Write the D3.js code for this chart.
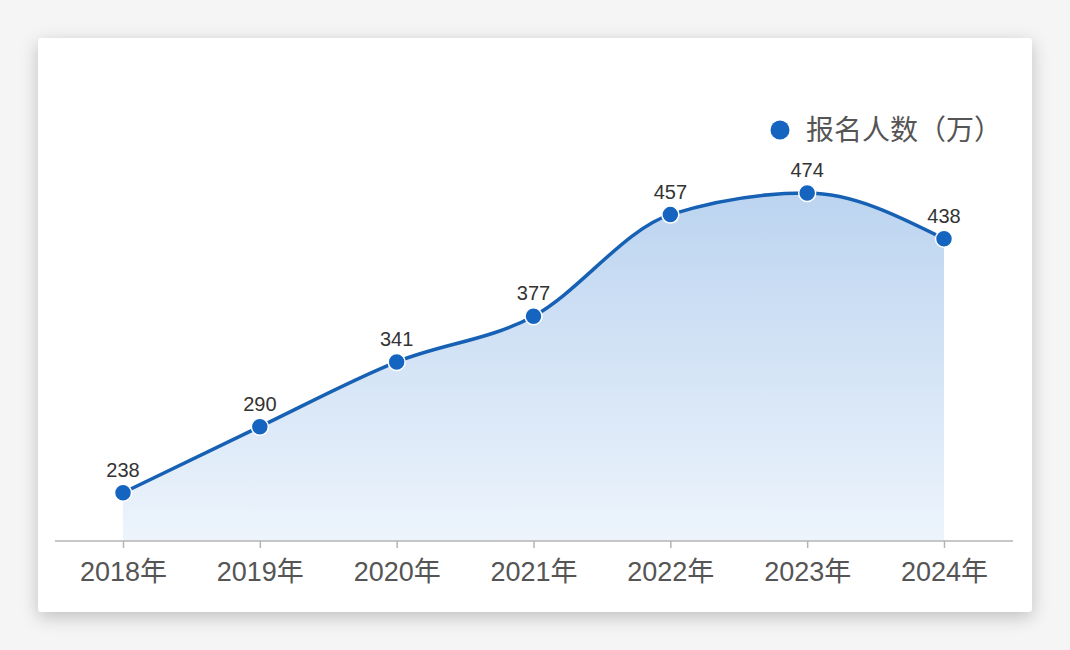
<!DOCTYPE html>
<html>
<head>
<meta charset="utf-8">
<script src="https://cdn.jsdelivr.net/npm/d3@7"></script>
<style>
  html, body { margin: 0; padding: 0; background: #f5f5f5; }
  #card {
    position: absolute; left: 38px; top: 38px; width: 994px; height: 574px;
    background: #fff; border-radius: 3px;
    box-shadow: 0 5px 18px rgba(0,0,0,0.22);
  }
  svg { position: absolute; left: 0; top: 0; }
</style>
</head>
<body>
<div id="card"></div>
<svg id="chart"></svg>
<script>
const years = ['2018年', '2019年', '2020年', '2021年', '2022年', '2023年', '2024年'];
const applicants = [238, 290, 341, 377, 457, 474, 438];
const seriesName = '报名人数（万）';

const W = 1070, H = 650;
const axisY = 541;
const font = '"Liberation Sans", "Noto Sans CJK SC", sans-serif';

const svg = d3.select('#chart').attr('width', W).attr('height', H);

const x = d3.scalePoint()
  .domain(years)
  .range([123, 944]);

const y = d3.scaleLinear()
  .domain([200, 500])
  .range([axisY, 160]);

const data = years.map((d, i) => ({ year: d, value: applicants[i] }));

// 渐变填充
const grad = svg.append('defs').append('linearGradient')
  .attr('id', 'areaFill')
  .attr('x1', 0).attr('y1', 0).attr('x2', 0).attr('y2', 1);
grad.append('stop').attr('offset', '0%').attr('stop-color', '#bcd4f0');
grad.append('stop').attr('offset', '100%').attr('stop-color', '#edf4fc');

const curve = d3.curveMonotoneX;

svg.append('path')
  .datum(data)
  .attr('fill', 'url(#areaFill)')
  .attr('d', d3.area()
    .curve(curve)
    .x(d => x(d.year))
    .y0(axisY)
    .y1(d => y(d.value)));

svg.append('path')
  .datum(data)
  .attr('fill', 'none')
  .attr('stroke', '#1761b5')
  .attr('stroke-width', 3.5)
  .attr('d', d3.line()
    .curve(curve)
    .x(d => x(d.year))
    .y(d => y(d.value)));

// x轴
const xAxis = svg.append('g')
  .attr('transform', `translate(0,${axisY})`)
  .call(d3.axisBottom(x).tickSize(7).tickPadding(14).tickSizeOuter(0));
xAxis.select('.domain').remove();
xAxis.insert('line', ':first-child')
  .attr('x1', 55).attr('x2', 1013)
  .attr('stroke', '#b4b4b4').attr('stroke-width', 1.5);
xAxis.selectAll('.tick line').attr('stroke', '#b4b4b4').attr('stroke-width', 1.5);
xAxis.selectAll('.tick text')
  .attr('fill', '#555')
  .style('font-family', font)
  .style('font-size', '27px');

// 数据点
svg.append('g')
  .selectAll('circle')
  .data(data)
  .enter()
  .append('circle')
  .attr('cx', d => x(d.year))
  .attr('cy', d => y(d.value))
  .attr('r', 8.5)
  .attr('fill', '#1565c0')
  .attr('stroke', '#fff')
  .attr('stroke-width', 1.5);

// 数值标签
svg.append('g')
  .selectAll('text')
  .data(data)
  .enter()
  .append('text')
  .attr('x', d => x(d.year))
  .attr('y', d => y(d.value) - 16)
  .attr('text-anchor', 'middle')
  .attr('fill', '#333')
  .style('font-family', '"Liberation Sans", Arial, sans-serif')
  .style('font-size', '20px')
  .text(d => d.value);

// 图例
const legend = svg.append('g').attr('transform', 'translate(780,130)');
legend.append('circle').attr('r', 9.5).attr('fill', '#1565c0');
legend.append('text')
  .attr('x', 26).attr('y', 0).attr('dy', '0.36em')
  .attr('fill', '#555')
  .style('font-family', '"Noto Sans CJK SC", sans-serif')
  .style('font-size', '28px')
  .text(seriesName);
</script>
</body>
</html>
